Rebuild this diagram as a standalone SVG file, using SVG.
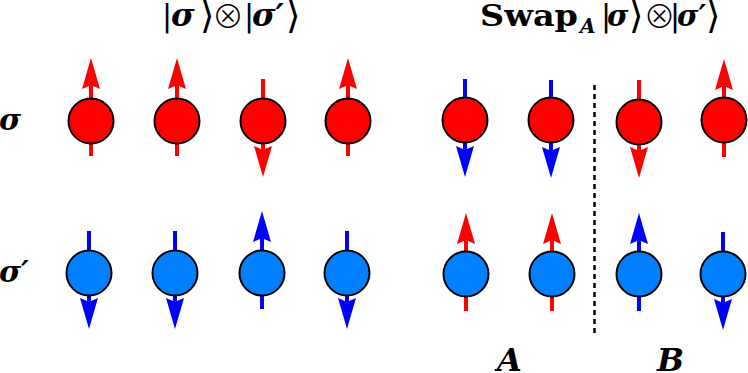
<svg xmlns="http://www.w3.org/2000/svg" xmlns:xlink="http://www.w3.org/1999/xlink" width="748" height="373" viewBox="0 0 748 373">
<style>
  .red { fill: #ff0000; }
  .blue { fill: #0000ff; }
  .sr { fill: #ff0000; stroke: #000; stroke-width: 2; }
  .sb { fill: #0080ff; stroke: #000; stroke-width: 2; }
  .lbl { font-family: "DejaVu Serif", "Liberation Serif", serif; fill: #000; }
  .bi { font-weight: bold; font-style: italic; }
  .b { font-weight: bold; }
  .sym { font-family: "DejaVu Sans", "DejaVu Serif", sans-serif; font-weight: normal; font-style: normal; }
  .ang { font-family: "DejaVu Sans", "DejaVu Serif", sans-serif; font-weight: normal; font-style: normal; font-size: 37px; }
  .ot { font-family: "Noto Sans CJK JP", "DejaVu Sans", sans-serif; font-weight: 300; font-style: normal; font-size: 32px; }
  .div { stroke: #000; stroke-width: 2.5; stroke-dasharray: 5 4; fill: none; }
</style>
<defs>
  <!-- up arrow: tip at (0,0), tail at (0,98) -->
  <path id="up" d="M0,0 L9,31 L2,28 L2,98 L-2,98 L-2,28 L-9,31 Z"/>
  <!-- down arrow: tail at (0,0), tip at (0,98) -->
  <path id="down" d="M0,98 L9,67 L2,70 L2,0 L-2,0 L-2,70 L-9,67 Z"/>
</defs>

<g id="labels">
  <text class="lbl" font-size="30" y="26">
    <tspan x="162" class="sym">|</tspan><tspan x="171" font-size="32" class="bi">σ</tspan><tspan x="200" y="28" class="ang">⟩</tspan><tspan x="212" y="28" class="ot">⊗</tspan><tspan x="244" y="26" class="sym">|</tspan><tspan x="252" font-size="32" class="bi">σ′</tspan><tspan x="286" y="28" class="ang">⟩</tspan>
  </text>
  <text class="lbl b" font-size="30" x="480" y="26" textLength="98" lengthAdjust="spacingAndGlyphs">Swap</text>
  <text class="lbl" font-size="30" y="26">
    <tspan x="580" y="33" font-size="20" class="bi">A</tspan><tspan x="601" y="26" class="sym">|</tspan><tspan x="607" font-size="29" class="bi">σ</tspan><tspan x="629" y="28" class="ang">⟩</tspan><tspan x="643.5" y="28" class="ot">⊗</tspan><tspan x="670" y="26" class="sym">|</tspan><tspan x="677" font-size="29" class="bi">σ′</tspan><tspan x="706" y="28" class="ang">⟩</tspan>
  </text>
  <text class="lbl bi" font-size="30" x="-1" y="130">σ</text>
  <text class="lbl bi" font-size="30" x="-1" y="282">σ′</text>
  <text class="lbl bi" font-size="32" x="497" y="371">A</text>
  <text class="lbl bi" font-size="32" x="657" y="371">B</text>
</g>

<g id="connectors">
  <line class="div" x1="594.5" y1="85" x2="594.5" y2="336"/>
</g>

<!-- top row (sigma) -->
<g id="t1"><use xlink:href="#up" class="red" x="91" y="58"/><circle class="sr" cx="91" cy="121" r="22.5"/></g>
<g id="t2"><use xlink:href="#up" class="red" x="177" y="58"/><circle class="sr" cx="177" cy="121" r="22.5"/></g>
<g id="t3"><use xlink:href="#down" class="red" x="263" y="79"/><circle class="sr" cx="263" cy="121" r="22.5"/></g>
<g id="t4"><use xlink:href="#up" class="red" x="348" y="58"/><circle class="sr" cx="348" cy="121" r="22.5"/></g>
<g id="t5"><use xlink:href="#down" class="blue" x="465" y="79"/><circle class="sr" cx="465" cy="120" r="22.5"/></g>
<g id="t6"><use xlink:href="#down" class="blue" x="551" y="80"/><circle class="sr" cx="551" cy="120" r="22.5"/></g>
<g id="t7"><use xlink:href="#down" class="red" x="639" y="80"/><circle class="sr" cx="639" cy="122" r="22.5"/></g>
<g id="t8"><use xlink:href="#up" class="red" x="724" y="59"/><circle class="sr" cx="724" cy="120" r="22.5"/></g>

<!-- bottom row (sigma') -->
<g id="b1"><use xlink:href="#down" class="blue" x="89" y="231"/><circle class="sb" cx="89" cy="273" r="22.5"/></g>
<g id="b2"><use xlink:href="#down" class="blue" x="175" y="231"/><circle class="sb" cx="175" cy="273" r="22.5"/></g>
<g id="b3"><use xlink:href="#up" class="blue" x="262" y="211"/><circle class="sb" cx="262" cy="273" r="22.5"/></g>
<g id="b4"><use xlink:href="#down" class="blue" x="347" y="231"/><circle class="sb" cx="347" cy="273" r="22.5"/></g>
<g id="b5"><use xlink:href="#up" class="red" x="466" y="213"/><circle class="sb" cx="466" cy="274" r="22.5"/></g>
<g id="b6"><use xlink:href="#up" class="red" x="552" y="213"/><circle class="sb" cx="552" cy="274" r="22.5"/></g>
<g id="b7"><use xlink:href="#up" class="blue" x="639" y="213"/><circle class="sb" cx="639" cy="274" r="22.5"/></g>
<g id="b8"><use xlink:href="#down" class="blue" x="723" y="232"/><circle class="sb" cx="723" cy="274" r="22.5"/></g>
</svg>
